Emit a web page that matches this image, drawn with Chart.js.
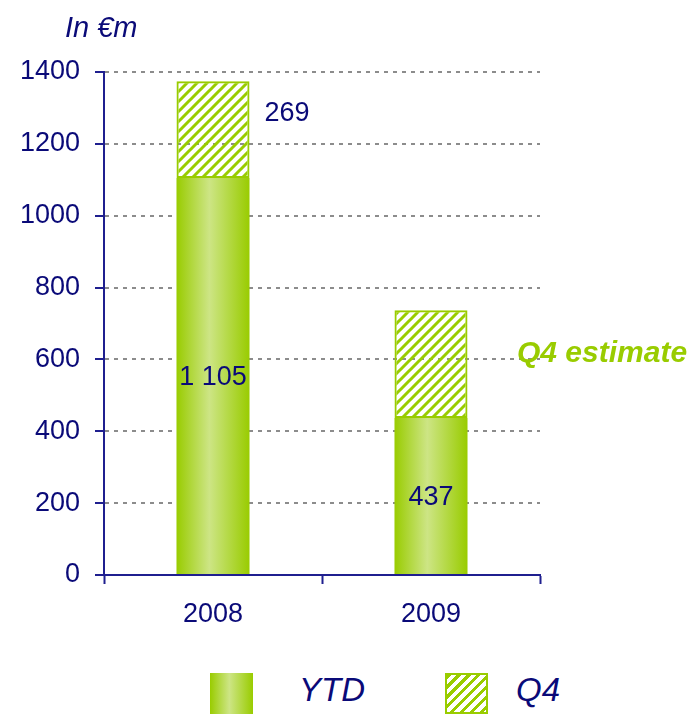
<!DOCTYPE html>
<html>
<head>
<meta charset="utf-8">
<script src="https://cdn.jsdelivr.net/npm/chart.js@4/dist/chart.umd.min.js"></script>
<style>
  body { margin: 0; background: #fff; }
  #wrap { position: relative; width: 693px; height: 714px; font-family: "Liberation Sans", Arial, sans-serif; }
  #chart { position: absolute; left: 0; top: 0; }
  .sw { position: absolute; top: 673px; width: 43px; height: 41px; box-sizing: border-box; }
  .lg { position: absolute; top: 671px; font-style: italic; font-size: 33px; color: #0a0a78; }
</style>
</head>
<body>
<div id="wrap">
  <canvas id="chart" width="693" height="660"></canvas>
  <div class="sw" style="left:210px; background: linear-gradient(to right, #99cc00, #cde585 45%, #99cc00);"></div>
  <div class="lg" style="left:299px;">YTD</div>
  <div class="sw" style="left:445px; border: 2px solid #99cc00; background: repeating-linear-gradient(135deg, #99cc00 0 3px, #fff 3px 7px);"></div>
  <div class="lg" style="left:516px;">Q4</div>
</div>
<script>
// --- Data ---
const years = ["2008", "2009"];
const ytdValues = [1105, 437];
const q4Values = [269, 300];
const q4Labels = ["269", ""];
const yTicks = [0, 200, 400, 600, 800, 1000, 1200, 1400];

const NAVY = "#0a0a78";
const AXIS = "#1f1f8f";
const GREEN = "#99cc00";
const BAR_PCT = 0.335;

const canvas = document.getElementById("chart");
const ctx = canvas.getContext("2d");

// hatch pattern for the Q4 part
function makeHatch() {
  const c = document.createElement("canvas");
  c.width = 10; c.height = 10;
  const g = c.getContext("2d");
  g.strokeStyle = GREEN;
  g.lineWidth = 3;
  g.beginPath();
  g.moveTo(0, 10); g.lineTo(10, 0);
  g.moveTo(-5, 5); g.lineTo(5, -5);
  g.moveTo(5, 15); g.lineTo(15, 5);
  g.stroke();
  return ctx.createPattern(c, "repeat");
}
const hatch = makeHatch();

// horizontal gradient per YTD bar
function ytdFill(context) {
  const chart = context.chart;
  const x = chart.scales.x;
  if (!x || context.dataIndex === undefined) return GREEN;
  const c = x.getPixelForValue(context.dataIndex);
  const half = (x.width / years.length) * BAR_PCT / 2;
  if (!isFinite(c) || !isFinite(half) || half <= 0) return GREEN;
  const g = chart.ctx.createLinearGradient(c - half, 0, c + half, 0);
  g.addColorStop(0, GREEN);
  g.addColorStop(0.45, "#cde585");
  g.addColorStop(1, GREEN);
  return g;
}

const fmt = v => String(v).replace(/\B(?=(\d{3})+(?!\d))/g, " ");

// --- Labels / texts ---
const textPlugin = {
  id: "texts",
  afterDatasetsDraw(chart) {
    const c = chart.ctx;
    c.save();
    c.fillStyle = NAVY;
    c.font = "27px 'Liberation Sans', Arial";
    c.textBaseline = "middle";

    // values inside the YTD bars
    c.textAlign = "center";
    chart.getDatasetMeta(0).data.forEach((bar, i) => {
      c.fillText(fmt(ytdValues[i]), bar.x, (bar.y + bar.base) / 2 + 2);
    });

    // Q4 label next to bar
    c.textAlign = "left";
    chart.getDatasetMeta(1).data.forEach((bar, i) => {
      if (!q4Labels[i]) return;
      c.fillText(q4Labels[i], bar.x + bar.width / 2 + 15, bar.y + 32);
    });

    // Q4 estimate note
    const b = chart.getDatasetMeta(1).data[1];
    c.fillStyle = GREEN;
    c.font = "italic bold 30px 'Liberation Sans', Arial";
    c.fillText("Q4 estimate", chart.chartArea.right - 23, (b.y + b.base) / 2 - 10);

    // unit
    c.fillStyle = NAVY;
    c.font = "italic 29px 'Liberation Sans', Arial";
    c.fillText("In €m", 65, 29);
    c.restore();
  }
};

new Chart(ctx, {
  type: "bar",
  data: {
    labels: years,
    datasets: [
      { label: "YTD", data: ytdValues, backgroundColor: ytdFill, borderWidth: 0 },
      { label: "Q4", data: q4Values, backgroundColor: hatch, borderColor: GREEN, borderWidth: 2, borderSkipped: false }
    ]
  },
  options: {
    responsive: false,
    animation: false,
    datasets: { bar: { categoryPercentage: 1, barPercentage: BAR_PCT } },
    layout: { padding: { top: 72, right: 153, left: 0, bottom: 0 } },
    plugins: { legend: { display: false }, tooltip: { enabled: false } },
    scales: {
      x: {
        stacked: true,
        afterFit: s => { s.height = 85; },
        grid: { display: true, drawOnChartArea: false, offset: true, tickLength: 9, tickColor: AXIS, tickWidth: 2 },
        border: { color: AXIS, width: 2 },
        ticks: { color: NAVY, font: { size: 27, family: "'Liberation Sans', Arial" }, padding: 14 }
      },
      y: {
        stacked: true,
        min: 0,
        max: 1400,
        afterFit: s => { s.width = 104; },
        afterBuildTicks: s => { s.ticks = yTicks.map(v => ({ value: v })); },
        grid: { color: "#8c8c8c", lineWidth: 2, tickLength: 9, tickColor: AXIS, tickWidth: 2 },
        border: { color: AXIS, width: 2, dash: [4, 5] },
        ticks: { color: NAVY, font: { size: 27, family: "'Liberation Sans', Arial" }, padding: 15, callback: v => String(v) }
      }
    }
  },
  plugins: [textPlugin]
});
</script>
</body>
</html>
